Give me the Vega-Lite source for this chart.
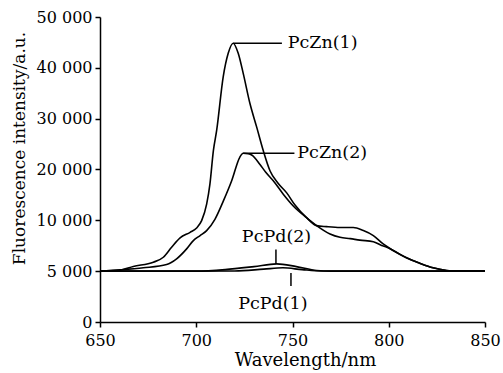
{
  "$schema": "https://vega.github.io/schema/vega-lite/v6.json",
  "width": 385,
  "height": 305,
  "autosize": {"type": "none"},
  "padding": {"left": 100, "top": 17, "right": 18, "bottom": 51},
  "background": "white",
  "config": {
    "view": {"stroke": null},
    "font": "DejaVu Serif",
    "axis": {
      "grid": false,
      "labelFlush": false,
      "labelOverlap": false,
      "domainColor": "black",
      "domainWidth": 1.5,
      "tickColor": "black",
      "tickWidth": 1.5,
      "tickSize": 5,
      "labelColor": "black",
      "labelFont": "DejaVu Serif",
      "labelFontSize": 16,
      "titleColor": "black",
      "titleFont": "DejaVu Serif",
      "titleFontSize": 17,
      "titleFontWeight": "normal"
    }
  },
  "datasets": {
    "curves": [
      {"series": "PcZn(1)", "wl": 650, "val": 5000},
      {"series": "PcZn(1)", "wl": 660, "val": 5080},
      {"series": "PcZn(1)", "wl": 667.3, "val": 5460},
      {"series": "PcZn(1)", "wl": 677.7, "val": 5880},
      {"series": "PcZn(1)", "wl": 682.9, "val": 6370},
      {"series": "PcZn(1)", "wl": 687.2, "val": 7350},
      {"series": "PcZn(1)", "wl": 691.6, "val": 8270},
      {"series": "PcZn(1)", "wl": 696.8, "val": 8820},
      {"series": "PcZn(1)", "wl": 700.2, "val": 9250},
      {"series": "PcZn(1)", "wl": 702.8, "val": 9970},
      {"series": "PcZn(1)", "wl": 705.4, "val": 13170},
      {"series": "PcZn(1)", "wl": 707.1, "val": 17130},
      {"series": "PcZn(1)", "wl": 708.9, "val": 23730},
      {"series": "PcZn(1)", "wl": 710.6, "val": 27680},
      {"series": "PcZn(1)", "wl": 714, "val": 38240},
      {"series": "PcZn(1)", "wl": 716.6, "val": 42870},
      {"series": "PcZn(1)", "wl": 719.2, "val": 44850},
      {"series": "PcZn(1)", "wl": 721.8, "val": 42870},
      {"series": "PcZn(1)", "wl": 724.4, "val": 38910},
      {"series": "PcZn(1)", "wl": 727.9, "val": 32970},
      {"series": "PcZn(1)", "wl": 731.4, "val": 28330},
      {"series": "PcZn(1)", "wl": 734.8, "val": 23720},
      {"series": "PcZn(1)", "wl": 738.3, "val": 19760},
      {"series": "PcZn(1)", "wl": 742.5, "val": 17300},
      {"series": "PcZn(1)", "wl": 747, "val": 15400},
      {"series": "PcZn(1)", "wl": 751.3, "val": 13000},
      {"series": "PcZn(1)", "wl": 757.3, "val": 10520},
      {"series": "PcZn(1)", "wl": 762.5, "val": 9480},
      {"series": "PcZn(1)", "wl": 769.5, "val": 8660},
      {"series": "PcZn(1)", "wl": 774.7, "val": 8330},
      {"series": "PcZn(1)", "wl": 780, "val": 8200},
      {"series": "PcZn(1)", "wl": 785, "val": 8050},
      {"series": "PcZn(1)", "wl": 792, "val": 7900},
      {"series": "PcZn(1)", "wl": 796.3, "val": 7520},
      {"series": "PcZn(1)", "wl": 799, "val": 7350},
      {"series": "PcZn(1)", "wl": 802.3, "val": 7030},
      {"series": "PcZn(1)", "wl": 809.2, "val": 6310},
      {"series": "PcZn(1)", "wl": 816.1, "val": 5780},
      {"series": "PcZn(1)", "wl": 823, "val": 5330},
      {"series": "PcZn(1)", "wl": 830, "val": 5070},
      {"series": "PcZn(1)", "wl": 835, "val": 5000},
      {"series": "PcZn(1)", "wl": 850, "val": 5000},
      {"series": "PcZn(2)", "wl": 650, "val": 5000},
      {"series": "PcZn(2)", "wl": 660.4, "val": 5130},
      {"series": "PcZn(2)", "wl": 672.5, "val": 5330},
      {"series": "PcZn(2)", "wl": 684.6, "val": 5650},
      {"series": "PcZn(2)", "wl": 689.8, "val": 6210},
      {"series": "PcZn(2)", "wl": 695, "val": 7190},
      {"series": "PcZn(2)", "wl": 698.5, "val": 8010},
      {"series": "PcZn(2)", "wl": 702, "val": 8500},
      {"series": "PcZn(2)", "wl": 705.4, "val": 8990},
      {"series": "PcZn(2)", "wl": 709.7, "val": 10200},
      {"series": "PcZn(2)", "wl": 714.1, "val": 13820},
      {"series": "PcZn(2)", "wl": 718.4, "val": 17780},
      {"series": "PcZn(2)", "wl": 722.6, "val": 22400},
      {"series": "PcZn(2)", "wl": 724.4, "val": 23190},
      {"series": "PcZn(2)", "wl": 727, "val": 23100},
      {"series": "PcZn(2)", "wl": 729, "val": 22800},
      {"series": "PcZn(2)", "wl": 733.1, "val": 20990},
      {"series": "PcZn(2)", "wl": 736, "val": 19500},
      {"series": "PcZn(2)", "wl": 740, "val": 17780},
      {"series": "PcZn(2)", "wl": 745.2, "val": 15150},
      {"series": "PcZn(2)", "wl": 750.4, "val": 12830},
      {"series": "PcZn(2)", "wl": 757.3, "val": 10520},
      {"series": "PcZn(2)", "wl": 762.5, "val": 9480},
      {"series": "PcZn(2)", "wl": 767.7, "val": 9380},
      {"series": "PcZn(2)", "wl": 774.7, "val": 9300},
      {"series": "PcZn(2)", "wl": 781.6, "val": 9300},
      {"series": "PcZn(2)", "wl": 786.8, "val": 8990},
      {"series": "PcZn(2)", "wl": 792, "val": 8500},
      {"series": "PcZn(2)", "wl": 797.1, "val": 7680},
      {"series": "PcZn(2)", "wl": 802.3, "val": 7030},
      {"series": "PcZn(2)", "wl": 809.2, "val": 6310},
      {"series": "PcZn(2)", "wl": 816.1, "val": 5780},
      {"series": "PcZn(2)", "wl": 823, "val": 5330},
      {"series": "PcZn(2)", "wl": 830, "val": 5070},
      {"series": "PcZn(2)", "wl": 835, "val": 5000},
      {"series": "PcZn(2)", "wl": 850, "val": 5000},
      {"series": "PcPd(2)", "wl": 650, "val": 5000},
      {"series": "PcPd(2)", "wl": 700, "val": 5000},
      {"series": "PcPd(2)", "wl": 715, "val": 5150},
      {"series": "PcPd(2)", "wl": 730, "val": 5450},
      {"series": "PcPd(2)", "wl": 741.8, "val": 5720},
      {"series": "PcPd(2)", "wl": 752, "val": 5450},
      {"series": "PcPd(2)", "wl": 762.6, "val": 5070},
      {"series": "PcPd(2)", "wl": 770, "val": 5000},
      {"series": "PcPd(2)", "wl": 850, "val": 5000},
      {"series": "PcPd(1)", "wl": 650, "val": 5000},
      {"series": "PcPd(1)", "wl": 720, "val": 5020},
      {"series": "PcPd(1)", "wl": 735, "val": 5200},
      {"series": "PcPd(1)", "wl": 745, "val": 5330},
      {"series": "PcPd(1)", "wl": 755, "val": 5150},
      {"series": "PcPd(1)", "wl": 765, "val": 5020},
      {"series": "PcPd(1)", "wl": 850, "val": 5000}
    ],
    "leaders": [
      {"series": "PcZn(1)", "x1": 719.2, "x2": 744.5, "y1": 44850, "y2": 44850},
      {"series": "PcZn(2)", "x1": 724.4, "x2": 751, "y1": 23190, "y2": 23190},
      {"series": "PcPd(2)", "x1": 741.4, "x2": 741.4, "y1": 7130, "y2": 5700},
      {"series": "PcPd(1)", "x1": 749.2, "x2": 749.2, "y1": 4830, "y2": 3530}
    ],
    "labels": [
      {"series": "PcZn(1)", "wl": 747.5, "val": 44850, "anchor": "left"},
      {"series": "PcZn(2)", "wl": 752.5, "val": 23190, "anchor": "left"},
      {"series": "PcPd(2)", "wl": 741.7, "val": 8360, "anchor": "center"},
      {"series": "PcPd(1)", "wl": 739.8, "val": 1800, "anchor": "center"}
    ]
  },
  "layer": [
    {
      "data": {"name": "curves"},
      "mark": {"type": "line", "color": "black", "strokeWidth": 1.6, "interpolate": "monotone"},
      "encoding": {
        "x": {
          "field": "wl", "type": "quantitative",
          "scale": {"domain": [650, 850], "nice": false, "zero": false},
          "axis": {"values": [650, 700, 750, 800, 850], "title": "Wavelength/nm", "labelPadding": 5, "titlePadding": 3, "titleX": 205, "titleFontSize": 18}
        },
        "y": {
          "field": "val", "type": "quantitative",
          "scale": {"domain": [0, 10000, 50000], "range": [305, 203.33, 0], "nice": false},
          "axis": {
            "values": [0, 5000, 10000, 20000, 30000, 40000, 50000],
            "labelExpr": "replace(format(datum.value, ','), ',', ' ')",
            "title": "Fluorescence intensity/a.u.",
            "labelPadding": 3,
            "titlePadding": 8,
            "titleY": 131
          }
        },
        "detail": {"field": "series"}
      }
    },
    {
      "data": {"name": "leaders"},
      "mark": {"type": "rule", "color": "black", "strokeWidth": 1.5},
      "encoding": {
        "x": {"field": "x1", "type": "quantitative"},
        "x2": {"field": "x2"},
        "y": {"field": "y1", "type": "quantitative"},
        "y2": {"field": "y2"}
      }
    },
    {
      "data": {"name": "labels"},
      "transform": [{"filter": "datum.anchor == 'left'"}],
      "mark": {"type": "text", "align": "left", "baseline": "middle", "fontSize": 17.5, "font": "DejaVu Serif", "color": "black"},
      "encoding": {
        "x": {"field": "wl", "type": "quantitative"},
        "y": {"field": "val", "type": "quantitative"},
        "text": {"field": "series"}
      }
    },
    {
      "data": {"name": "labels"},
      "transform": [{"filter": "datum.anchor == 'center'"}],
      "mark": {"type": "text", "align": "center", "baseline": "middle", "fontSize": 17.5, "font": "DejaVu Serif", "color": "black"},
      "encoding": {
        "x": {"field": "wl", "type": "quantitative"},
        "y": {"field": "val", "type": "quantitative"},
        "text": {"field": "series"}
      }
    }
  ]
}
